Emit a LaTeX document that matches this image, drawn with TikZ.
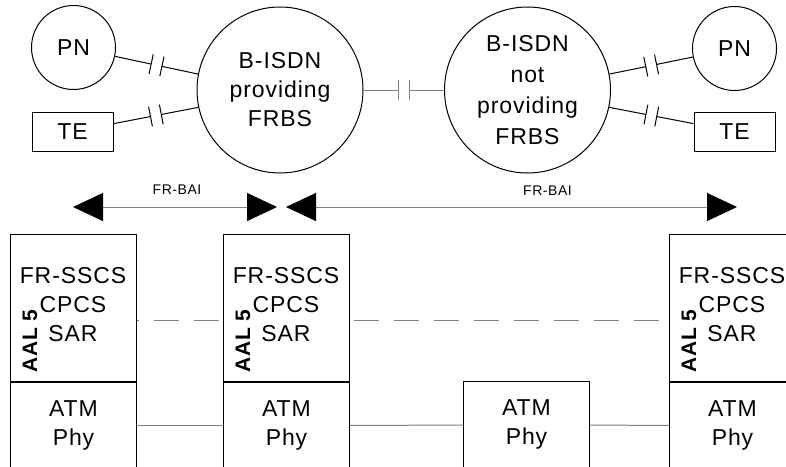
\documentclass[tikz,border=0pt]{standalone}
\usepackage{fontspec}
\setmainfont{Liberation Sans}[LetterSpace=4]
\usetikzlibrary{arrows.meta,positioning,calc,decorations.markings}

\begin{document}
\begin{tikzpicture}[x=1pt, y=-1pt,
      every node/.style={font=\fontsize{23}{29}\selectfont},
      nd/.style={circle, draw, line width=1pt, inner sep=0pt, align=center},
      bx/.style={rectangle, draw, line width=1pt, inner sep=0pt,
        minimum width=81pt, minimum height=39pt},
      ln/.style={line width=1pt},
      brk/.style={postaction={decorate}, decoration={markings,
        mark=at position 0.5 with {
          \fill[white] (-5.5pt,-4pt) rectangle (5.5pt,4pt);
          \draw[line width=1pt] (-5.5pt,-10pt) -- (-5.5pt,10pt)
            (5.5pt,-10pt) -- (5.5pt,10pt);}}},
      arr/.style={{Triangle[length=30pt,width=28pt,color=black]}-{Triangle[length=30pt,width=28pt,color=black]},
        gray, line width=1pt},
      lbl/.style={font=\fontsize{14}{14}\selectfont, inner sep=0pt},
      stk/.style={rectangle, draw, fill=white, line width=1pt, inner sep=0pt,
        minimum width=126pt, minimum height=147pt, anchor=north west},
      atm/.style={rectangle, draw, fill=white, line width=1pt, inner sep=0pt,
        minimum width=126pt, minimum height=86.5pt, anchor=north, align=center},
      stxt/.style={align=center, inner sep=0pt},
      aal/.style={rotate=90, inner sep=0pt, font=\bfseries\fontsize{21}{21}\selectfont},
      dsh/.style={gray, line width=1pt, dash pattern=on 25pt off 15pt}
    ]
      \useasboundingbox (0,0) rectangle (786,466);
      \clip (0,0) rectangle (786,466);

      % networks
      \node[nd, minimum size=84pt] (pnl) at (73.5,47.5) {PN};
      \node[bx] (tel) at (72.5,131.5) {TE};
      \node[nd, minimum size=166pt] (netl) at (280,90) {B-ISDN\\providing\\FRBS};
      \node[nd, minimum size=166pt, font=\fontsize{23}{31}\selectfont]
        (netr) at (527.5,90) {B-ISDN\\not\\providing\\FRBS};
      \node[nd, minimum size=84pt] (pnr) at (734.5,48.5) {PN};
      \node[bx] (ter) at (734.5,131.5) {TE};

      \draw[ln, brk] (pnl) -- (netl.169);
      \draw[ln, brk] (tel) -- (netl.192);
      \draw[ln, brk] (netr.11) -- (pnr);
      \draw[ln, brk] (netr.-12) -- (ter);
      \draw[ln, gray, brk] (netl) -- (netr);

      % interfaces
      \coordinate (bl1) at (73,207);
      \coordinate (br1) at (277,207);
      \coordinate (bl2) at (286,207);
      \coordinate (br2) at (737,207);
      \draw[arr] (bl1) -- (br1);
      \draw[arr] (bl2) -- (br2);
      \node[lbl] (bai1) at (177,190) {FR-BAI};
      \node[lbl] (bai2) at (547.5,191) {FR-BAI};

      % protocol stacks
      \node[stk] (stk1) at (10,234) {};
      \node[stk] (stk2) at (223,234) {};
      \node[stk] (stk4) at (669,234) {};
      \node[atm] (atm1) at (stk1.south) {ATM\\Phy};
      \node[atm] (atm2) at (stk2.south) {ATM\\Phy};
      \node[atm] (atm3) at (526.5,381) {ATM\\Phy};
      \node[atm] (atm4) at (stk4.south) {ATM\\Phy};

      \node[stxt] (sl1) at (73,305) {FR-SSCS\\CPCS\\SAR};
      \node[stxt] (sl2) at (286,305) {FR-SSCS\\CPCS\\SAR};
      \node[stxt] (sl4) at (732,305) {FR-SSCS\\CPCS\\SAR};
      \node[aal] (al1) at (30,341) {AAL 5};
      \node[aal] (al2) at (243,341) {AAL 5};
      \node[aal] (al4) at (689,341) {AAL 5};

      \draw[dsh, dash phase=23pt] ([yshift=-12.5pt]stk1.east) -- ([yshift=-12.5pt]stk2.west);
      \draw[dsh, dash phase=36pt] ([yshift=-12.5pt]stk2.east) -- ([yshift=-12.5pt]stk4.west);
      \draw[ln, gray] (atm1) -- (atm2);
      \draw[ln, gray] (atm2) -- (atm3);
      \draw[ln, gray] (atm3) -- (atm4);
    \end{tikzpicture}
\end{document}
